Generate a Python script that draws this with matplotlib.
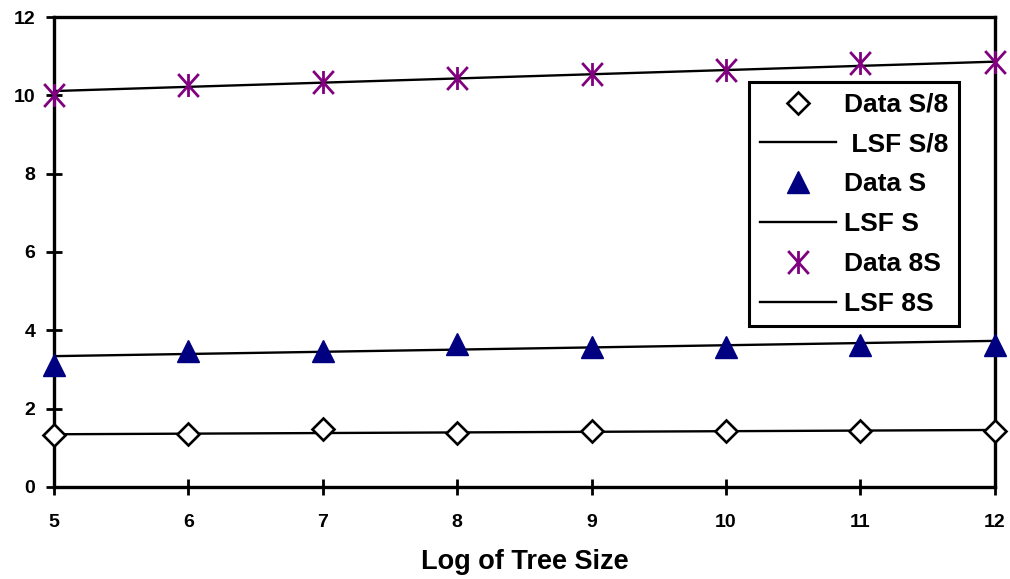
import numpy as np
import matplotlib
matplotlib.use("Agg")
import matplotlib.pyplot as plt
from matplotlib.path import Path

plt.rcParams['font.family'] = ['Liberation Sans', 'DejaVu Sans']
plt.rcParams['font.weight'] = 'bold'

# Log of tree size
log_size = [5, 6, 7, 8, 9, 10, 11, 12]

# measured data
data_s8 = [1.33, 1.35, 1.49, 1.39, 1.43, 1.43, 1.44, 1.44]
data_s = [3.12, 3.48, 3.48, 3.65, 3.58, 3.58, 3.63, 3.63]
data_8s = [10.02, 10.26, 10.34, 10.44, 10.55, 10.65, 10.82, 10.84]

# least squares fit end points (at 5 and 12)
lsf_s8 = [1.345, 1.455]
lsf_s = [3.34, 3.73]
lsf_8s = [10.11, 10.86]
lsf_x = [5, 12]

# excel style star: an X with a vertical stroke through it
star = Path([(0, -1), (0, 1), (-0.9, -1), (0.9, 1), (-0.9, 1), (0.9, -1)],
            [Path.MOVETO, Path.LINETO] * 3)

fig = plt.figure(figsize=(10.1, 5.79), dpi=100)
ax = fig.add_axes([0.0535, 0.159, 0.9315, 0.8116])

ax.plot(log_size, data_s8, linestyle='none', marker='D', markersize=11,
        markerfacecolor='white', markeredgecolor='black', markeredgewidth=1.9,
        label='Data S/8', zorder=4, clip_on=False)
ax.plot(lsf_x, lsf_s8, color='black', lw=1.7, label=' LSF S/8', zorder=3)
ax.plot(log_size, data_s, linestyle='none', marker='^', markersize=16,
        color='#000080', label='Data S', zorder=4, clip_on=False)
ax.plot(lsf_x, lsf_s, color='black', lw=1.7, label='LSF S', zorder=3)
ax.plot(log_size, data_8s, linestyle='none', marker=star, markersize=16.5,
        markeredgecolor='#800080', markeredgewidth=2.0, color='#800080',
        label='Data 8S', zorder=4, clip_on=False)
ax.plot(lsf_x, lsf_8s, color='black', lw=1.7, label='LSF 8S', zorder=3)

ax.set_xlim(5, 12)
ax.set_ylim(0, 12)
ax.set_xticks(log_size)
ax.set_yticks(np.arange(0, 13, 2))

for s in ax.spines.values():
    s.set_linewidth(2.4)
    s.set_color('black')

ax.tick_params(axis='both', direction='inout', length=11, width=2, labelsize=14)
ax.tick_params(axis='y', pad=8)
ax.tick_params(axis='x', pad=14)
for lbl in ax.get_xticklabels() + ax.get_yticklabels():
    lbl.set_fontweight('bold')

ax.set_xlabel('Log of Tree Size', fontsize=19.5, fontweight='bold', labelpad=13)

leg = ax.legend(loc='upper right', bbox_to_anchor=(0.9495, 0.858),
                bbox_transform=fig.transFigure, borderaxespad=0,
                fancybox=False, shadow=False, edgecolor='black',
                framealpha=1, numpoints=1, handlelength=2.9,
                prop={'size': 19, 'weight': 'bold'}, labelspacing=0.6,
                borderpad=0.4, handletextpad=0.3)
leg.get_frame().set_linewidth(2.2)

fig.savefig('out.png', dpi=100)
